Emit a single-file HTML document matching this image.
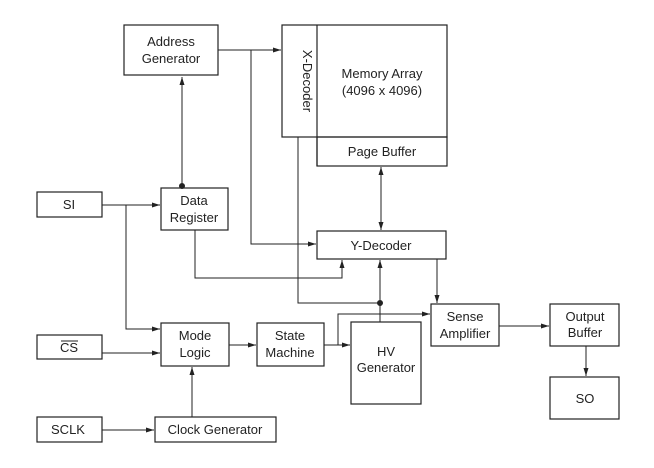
<!DOCTYPE html>
<html><head><style>body{margin:0;background:#fff}svg{display:block}</style></head><body>
<svg width="654" height="468" viewBox="0 0 654 468" xmlns="http://www.w3.org/2000/svg" font-family="Liberation Sans, Arial, sans-serif" font-size="13" fill="#222">
<defs><marker id="a" markerWidth="8" markerHeight="6" refX="8" refY="3" orient="auto" markerUnits="userSpaceOnUse"><path d="M0,0.5 L8,3 L0,5.5z" fill="#222"/></marker></defs>
<g fill="none" stroke="#222" stroke-width="1.2">
<rect x="124" y="25" width="94" height="50"/>
<rect x="282" y="25" width="165" height="112"/>
<line x1="317" y1="25" x2="317" y2="166"/>
<rect x="317" y="137" width="130" height="29"/>
<rect x="161" y="188" width="67" height="42"/>
<rect x="37" y="192" width="65" height="25"/>
<rect x="37" y="335" width="65" height="24"/>
<rect x="37" y="417" width="65" height="25"/>
<rect x="161" y="323" width="68" height="43"/>
<rect x="155" y="417" width="121" height="25"/>
<rect x="257" y="323" width="67" height="43"/>
<rect x="351" y="322" width="70" height="82"/>
<rect x="317" y="231" width="129" height="28"/>
<rect x="431" y="304" width="68" height="42"/>
<rect x="550" y="304" width="69" height="42"/>
<rect x="550" y="377" width="69" height="42"/>
</g>
<g fill="none" stroke="#222" stroke-width="1" marker-end="url(#a)">
<line x1="218" y1="50" x2="281" y2="50"/>
<line x1="182" y1="186" x2="182" y2="77"/>
<line x1="102" y1="205" x2="160" y2="205"/>
<polyline points="126,205 126,329 160,329"/>
<line x1="102" y1="353" x2="160" y2="353"/>
<line x1="102" y1="430" x2="154" y2="430"/>
<line x1="192" y1="417" x2="192" y2="367"/>
<line x1="229" y1="345" x2="256" y2="345"/>
<line x1="324" y1="345" x2="350" y2="345"/>
<polyline points="338,345 338,314 430,314"/>
<polyline points="251,50 251,244 316,244"/>
<polyline points="195,230 195,278 342,278 342,260"/>
<line x1="380" y1="322" x2="380" y2="260"/>
<line x1="381" y1="180" x2="381" y2="230"/>
<line x1="381" y1="220" x2="381" y2="167"/>
<line x1="437" y1="259" x2="437" y2="303"/>
<line x1="499" y1="326" x2="549" y2="326"/>
<line x1="586" y1="346" x2="586" y2="376"/>
</g>
<polyline points="298,137 298,303 380,303" fill="none" stroke="#222" stroke-width="1"/>
<circle cx="182" cy="186" r="3" fill="#222"/>
<circle cx="380" cy="303" r="3" fill="#222"/>
<g text-anchor="middle">
<text x="171" y="46">Address</text><text x="171" y="63">Generator</text>
<text x="382" y="78">Memory Array</text><text x="382" y="95">(4096 x 4096)</text>
<text x="382" y="156">Page Buffer</text>
<text x="299" y="81" transform="rotate(90 299 81)" dy="-4">X-Decoder</text>
<text x="194" y="205">Data</text><text x="194" y="222">Register</text>
<text x="69" y="209">SI</text>
<text x="69" y="352">CS</text>
<text x="68" y="434">SCLK</text>
<text x="195" y="340">Mode</text><text x="195" y="357">Logic</text>
<text x="215" y="434">Clock Generator</text>
<text x="290" y="340">State</text><text x="290" y="357">Machine</text>
<text x="386" y="356">HV</text><text x="386" y="372">Generator</text>
<text x="381" y="250">Y-Decoder</text>
<text x="465" y="321">Sense</text><text x="465" y="338">Amplifier</text>
<text x="585" y="321">Output</text><text x="585" y="337">Buffer</text>
<text x="585" y="403">SO</text>
</g>
<line x1="61" y1="341" x2="78" y2="341" stroke="#222" stroke-width="1"/>
</svg>
</body></html>
